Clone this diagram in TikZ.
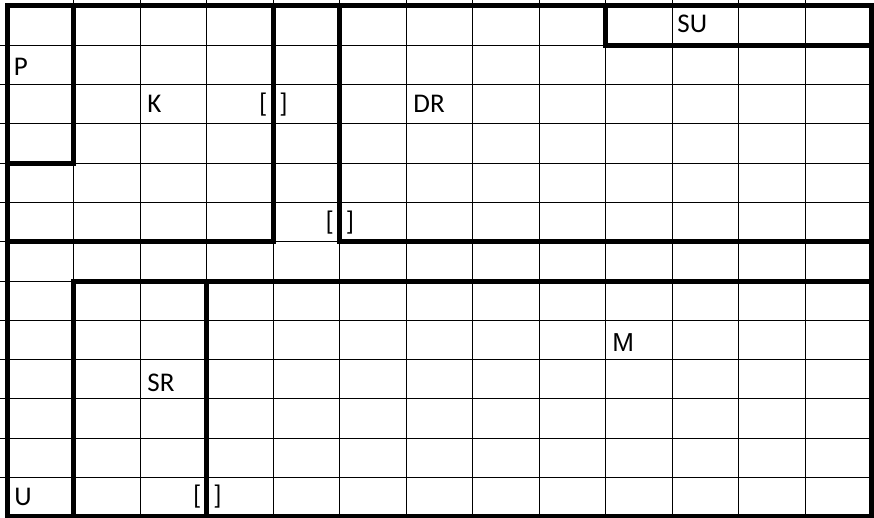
\documentclass[tikz,border=0pt]{standalone}
\usepackage{fontspec}
\setmainfont{Carlito}
\newfontfamily\arialfont{Liberation Sans}

\begin{document}
\begin{tikzpicture}[x=0.5pt,y=-0.5pt,
  cellline/.style={line width=0.5pt},
  wall/.style={line width=2.5pt,line join=miter,line cap=rect},
  lbl/.style={anchor=base west,inner sep=0pt,font=\fontsize{13.5}{16}\selectfont},
  gap/.style={anchor=base,inner sep=0pt,font=\fontsize{13.5}{16}\selectfont}]
  \useasboundingbox (0,0) rectangle (874,518);
  % cells
  \foreach \i in {1,...,12}
    \draw [cellline] ({7+66.5*\i},0) -- ({7+66.5*\i},517);
  \foreach \j in {1,...,12}
    \draw [cellline] (0,{6+39.3*\j}) -- (872,{6+39.3*\j});
  % frame
  \draw [wall] (7,6) rectangle (871.5,516.9);
  % upper rooms
  \draw [wall] (73.5,6) -- (73.5,163.2) -- (7,163.2);
  \draw [wall] (273,6) -- (273,241.8) -- (7,241.8);
  \draw [wall] (339.5,6) -- (339.5,241.8) -- (871.5,241.8);
  \draw [wall] (605.5,6) -- (605.5,45.3) -- (871.5,45.3);
  % lower rooms
  \draw [wall] (73.5,516.9) -- (73.5,281.1) -- (871.5,281.1);
  \draw [wall] (206.5,281.1) -- (206.5,516.9);
  % names
  \node [lbl] (P) at (13.5,76) {P};
  \node [lbl] (K) at (147,113) {K};
  \node [lbl] (DR) at (413,113) {DR};
  \node [lbl] (SU) at (677,33) {SU};
  \node [lbl,font=\fontsize{13}{16}\arialfont] (M) at (612,352) {M};
  \node [lbl] (SR) at (147,392) {SR};
  \node [lbl] (U) at (14,506) {U};
  % doors
  \node [gap] (doorK) at (273.5,113) {[\hspace{6pt}]};
  \node [gap] (doorDR) at (340,231) {[\hspace{6pt}]};
  \node [gap] (doorSR) at (207.5,505) {[\hspace{6pt}]};
\end{tikzpicture}
\end{document}
